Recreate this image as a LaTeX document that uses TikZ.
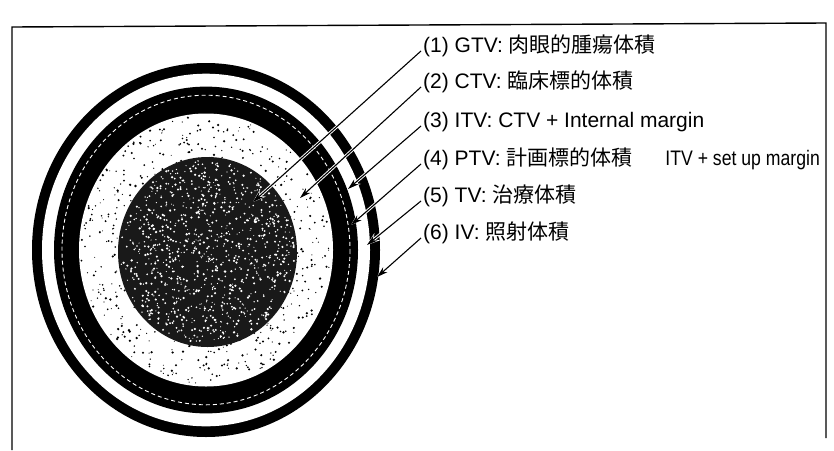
\documentclass[tikz,border=0pt]{standalone}
\usepackage{fontspec}
\setmainfont{Liberation Sans}
\newfontfamily\cjk{Noto Sans CJK JP}
\newfontfamily\narrowsans[FakeStretch=0.84]{Liberation Sans}
\usetikzlibrary{arrows.meta}
\begin{document}
\begin{tikzpicture}[x=1pt,y=-1pt,
  lbl/.style={anchor=base west, inner sep=0pt, font=\fontsize{21}{25}\selectfont},
  arr/.style={line width=1.1pt, -{Stealth[length=11pt,width=6.5pt]},
    preaction={draw=white, line width=3pt, -{Stealth[length=13pt,width=9pt]}}},
  frameline/.style={line width=1.4pt},
]
\useasboundingbox (0,0) rectangle (834,450);
% frame
\draw[frameline] (12,450) -- (12,27) -- (826,23) -- (826,438);
% rings
\fill[black] (206,250) ellipse [x radius=174, y radius=187];
\fill[white] (206,250) ellipse [x radius=164, y radius=176.3];
\fill[black] (206,250) ellipse [x radius=152, y radius=163.4];
\draw[white, line width=0.9pt, dash pattern=on 4pt off 3pt] (206,250) ellipse [x radius=144, y radius=154.8];
\fill[white] (206,250) ellipse [x radius=127, y radius=136.5];
% specks in CTV zone
\pgfmathsetseed{7}
\foreach \i in {1,...,800}{
  \pgfmathsetmacro\aa{360*rnd}
  \pgfmathsetmacro\rr{sqrt(rnd)}
  \pgfmathsetmacro\ss{0.5+0.8*rnd}
  \fill[black] ({206+125*\rr*cos(\aa)},{250+134*\rr*sin(\aa)}) circle[radius=\ss];
}
% GTV
\fill[black!90] (207.5,252) ellipse [x radius=89.5, y radius=95];
\pgfmathsetseed{11}
\foreach \i in {1,...,1000}{
  \pgfmathsetmacro\aa{360*rnd}
  \pgfmathsetmacro\rr{sqrt(rnd)}
  \pgfmathsetmacro\ss{0.5+0.8*rnd}
  \fill[white] ({207.5+87*\rr*cos(\aa)},{252+92*\rr*sin(\aa)}) circle[radius=\ss];
}
% labels
\node[lbl] (l1) at (423,52)  {(1) GTV: {\cjk 肉眼的腫瘍体積}};
\node[lbl] (l2) at (423,88)  {(2) CTV: {\cjk 臨床標的体積}};
\node[lbl] (l3) at (423,127) {(3) ITV: CTV + Internal margin};
\node[lbl] (l4) at (423,165) {(4) PTV: {\cjk 計画標的体積}\hspace{33pt}{\narrowsans ITV + set up margin}};
\node[lbl] (l5) at (423,202) {(5) TV: {\cjk 治療体積}};
\node[lbl] (l6) at (423,239) {(6) IV: {\cjk 照射体積}};
% arrow tips
\coordinate (t1) at (253,202);
\coordinate (t2) at (300,198);
\coordinate (t3) at (348,189);
\coordinate (t4) at (351,225);
\coordinate (t5) at (367,245);
\coordinate (t6) at (377,277);
\foreach \k in {1,...,6}{
  \draw[arr] ([xshift=-2pt,yshift=1pt]l\k.base west) -- (t\k);
}
\end{tikzpicture}
\end{document}
